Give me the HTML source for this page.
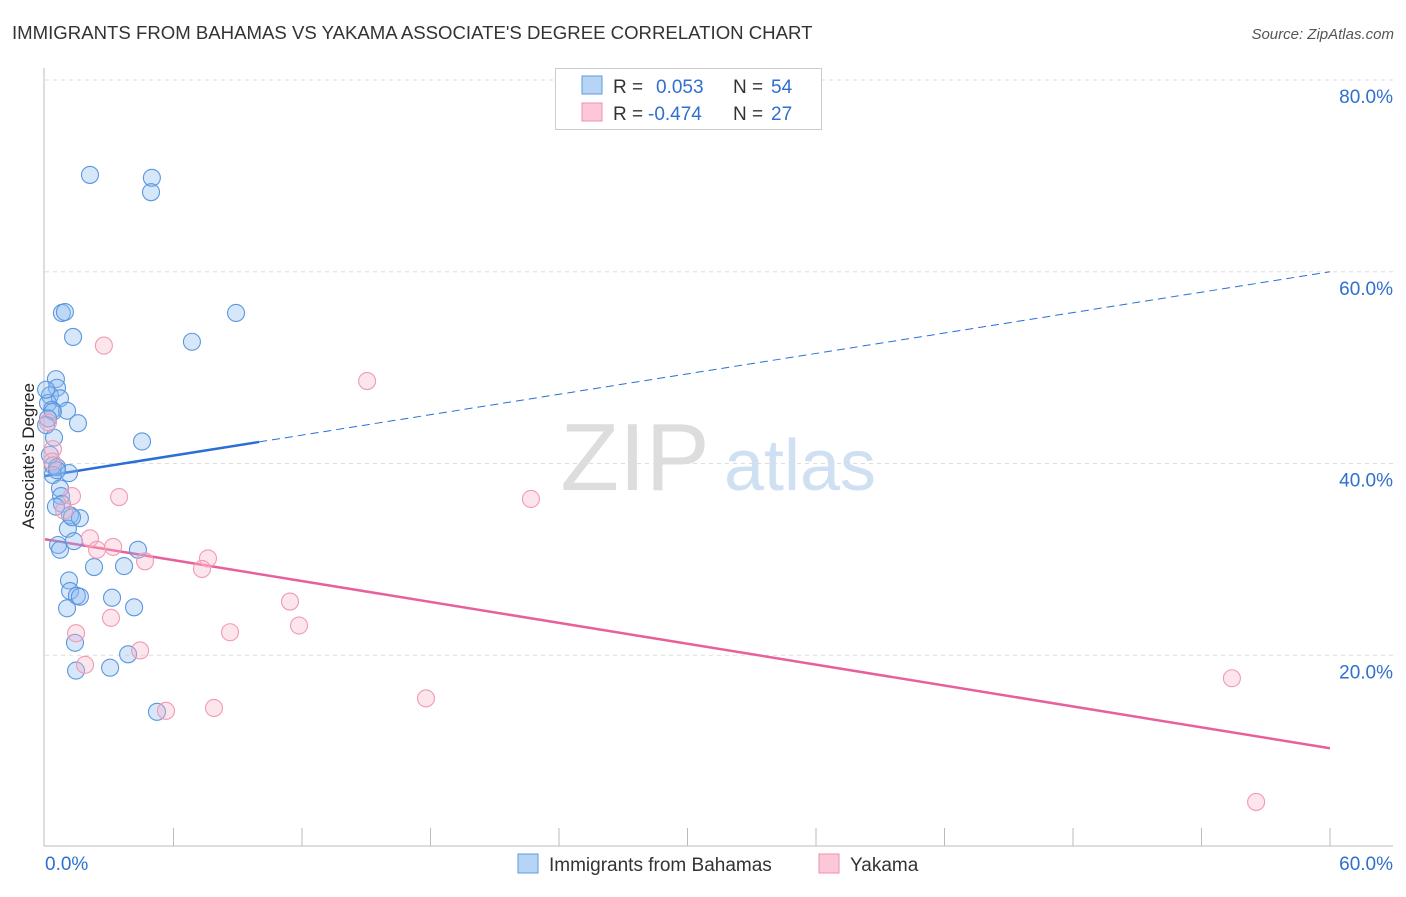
<!DOCTYPE html>
<html><head><meta charset="utf-8"><style>
body{margin:0;background:#fff;font-family:"Liberation Sans",sans-serif}
svg text{font-family:"Liberation Sans",sans-serif}
</style></head><body>
<svg width="1406" height="892" id="chart">
<text x="12" y="39" font-size="18.6" fill="#333">IMMIGRANTS FROM BAHAMAS VS YAKAMA ASSOCIATE'S DEGREE CORRELATION CHART</text>
<text x="1394" y="39" font-size="15" fill="#555" font-style="italic" text-anchor="end">Source: ZipAtlas.com</text>
<text x="34" y="456" font-size="17" fill="#222" text-anchor="middle" transform="rotate(-90 34 456)">Associate's Degree</text>
<g><text x="635" y="490" font-size="96" fill="#ddd" font-family="Liberation Serif" text-anchor="middle">ZIP</text><text x="800" y="490" font-size="72" fill="#cfe0f3" text-anchor="middle">atlas</text></g>
<g id="grid"></g><g id="trend"></g><g id="pts"></g>
<g>
<rect x="555.500" y="68.500" width="266" height="61" fill="#fff" stroke="#ccc"/>
<rect x="582" y="76" width="20" height="18" fill="#b8d4f5" stroke="#5b9be0"/>
<rect x="582" y="103" width="20" height="18" fill="#fcc8d8" stroke="#ef8fae"/>
<text x="613" y="93" font-size="19" fill="#333">R =</text>
<text x="656" y="93" font-size="19" fill="#2f6fd0">0.053</text>
<text x="733" y="93" font-size="19" fill="#333">N =</text>
<text x="771" y="93" font-size="19" fill="#2f6fd0">54</text>
<text x="613" y="120" font-size="19" fill="#333">R =</text>
<text x="648" y="120" font-size="19" fill="#2f6fd0">-0.474</text>
<text x="733" y="120" font-size="19" fill="#333">N =</text>
<text x="771" y="120" font-size="19" fill="#2f6fd0">27</text>
</g>
<g>
<rect x="518" y="854" width="20" height="19" fill="#b8d4f5" stroke="#5b9be0"/>
<text x="549" y="871" font-size="19" fill="#333">Immigrants from Bahamas</text>
<rect x="819" y="854" width="20" height="19" fill="#fcc8d8" stroke="#ef8fae"/>
<text x="850" y="871" font-size="19" fill="#333">Yakama</text>
</g>
</svg>
<script>
const yTicks=[20,40,60,80];
const xTickLabels=["0.0%","60.0%"];
const blueX=[2.10,4.99,4.95,0.79,0.93,8.92,1.31,6.86,0.51,0.56,0.23,0.70,0.14,0.33,1.03,0.37,0.14,1.54,0.42,4.53,0.23,0.37,0.56,0.37,1.12,0.70,0.75,0.79,1.17,1.63,1.07,0.61,0.70,1.35,4.34,2.29,3.69,1.12,1.17,1.49,1.63,3.13,1.03,4.16,1.40,3.88,1.45,3.04,5.23,0.05,0.05,0.51,1.26,0.56];
const blueY=[70.1,69.8,68.3,55.7,55.8,55.7,53.2,52.7,48.8,47.9,47.1,46.8,46.3,45.6,45.5,45.4,44.7,44.2,42.7,42.3,40.9,39.8,39.6,38.8,39.0,37.4,36.6,35.8,34.6,34.3,33.2,31.5,31.0,31.9,31.0,29.2,29.3,27.8,26.7,26.2,26.1,26.0,24.9,25.0,21.3,20.1,18.4,18.7,14.1,47.7,44.0,35.5,34.4,39.3];
const pinkX=[2.75,15.04,0.37,1.26,3.46,22.69,0.89,2.10,2.43,3.18,4.67,7.61,7.33,11.44,3.08,8.64,11.86,1.45,4.44,1.87,5.65,7.89,17.79,55.42,56.55,0.14,0.33];
const pinkY=[52.3,48.6,41.5,36.6,36.5,36.3,35.1,32.2,31.0,31.3,29.8,30.1,29.0,25.6,23.9,22.4,23.1,22.3,20.5,19.0,14.2,14.5,15.5,17.6,4.7,44.3,40.2];
const blueTrend=[38.7,60.0], blueSolidEnd=10;
const pinkTrend=[32.1,10.3];
const NS="http://www.w3.org/2000/svg";
const X=v=>45+v/60*1285, Y=v=>847-v/20*191.75;
function mk(p,t,a){const e=document.createElementNS(NS,t);for(const k in a)e.setAttribute(k,a[k]);document.getElementById(p).appendChild(e);return e;}
yTicks.forEach(t=>{
 const l=mk('grid','line',{x1:45,x2:1393,y1:Y(t),y2:Y(t),stroke:'#ddd','stroke-dasharray':'4,4'});
 
 
 const tx=mk('grid','text',{x:1393,y:Y(t)+23,'font-size':19,fill:'#2f6fd0','text-anchor':'end'});
 tx.textContent=t.toFixed(1)+'%';
 
 
});
const ax=mk('grid','line',{x1:44,x2:44,y1:68,y2:846,stroke:'#bbb'});


const bx=mk('grid','line',{x1:44,x2:1393,y1:846,y2:846,stroke:'#bbb'});


for(let i=1;i<=10;i++){
 const t=mk('grid','line',{x1:X(i*6),x2:X(i*6),y1:828,y2:846,stroke:'#bbb'});
 
 
}
[[0,'start',45],[60,'end',1393]].forEach((d,i)=>{
 const t=mk('grid','text',{x:d[2],y:870,'font-size':19,fill:'#2f6fd0','text-anchor':d[1]});
 t.textContent=xTickLabels[i];
 
 
});
const bAt=x=>blueTrend[0]+(blueTrend[1]-blueTrend[0])*x/60;
let l1=mk('trend','line',{x1:X(0),y1:Y(bAt(0)),x2:X(blueSolidEnd),y2:Y(bAt(blueSolidEnd)),stroke:'#2a6fd6','stroke-width':2.5});


let l2=mk('trend','line',{x1:X(blueSolidEnd),y1:Y(bAt(blueSolidEnd)),x2:X(60),y2:Y(bAt(60)),stroke:'#2a6fd6','stroke-width':1,'stroke-dasharray':'8,5'});


let l3=mk('trend','line',{x1:X(0),y1:Y(pinkTrend[0]),x2:X(60),y2:Y(pinkTrend[1]),stroke:'#e8609a','stroke-width':2.5});


blueX.forEach((x,i)=>{
 const c=mk('pts','circle',{cx:X(x),cy:Y(blueY[i]),r:8.5,fill:'rgba(140,185,240,0.35)',stroke:'#5b97de','stroke-width':1.1});
 
 
});
pinkX.forEach((x,i)=>{
 const c=mk('pts','circle',{cx:X(x),cy:Y(pinkY[i]),r:8.5,fill:'rgba(248,180,200,0.35)',stroke:'#f09ab6','stroke-width':1.1});
 
 
});
</script>
</body></html>
